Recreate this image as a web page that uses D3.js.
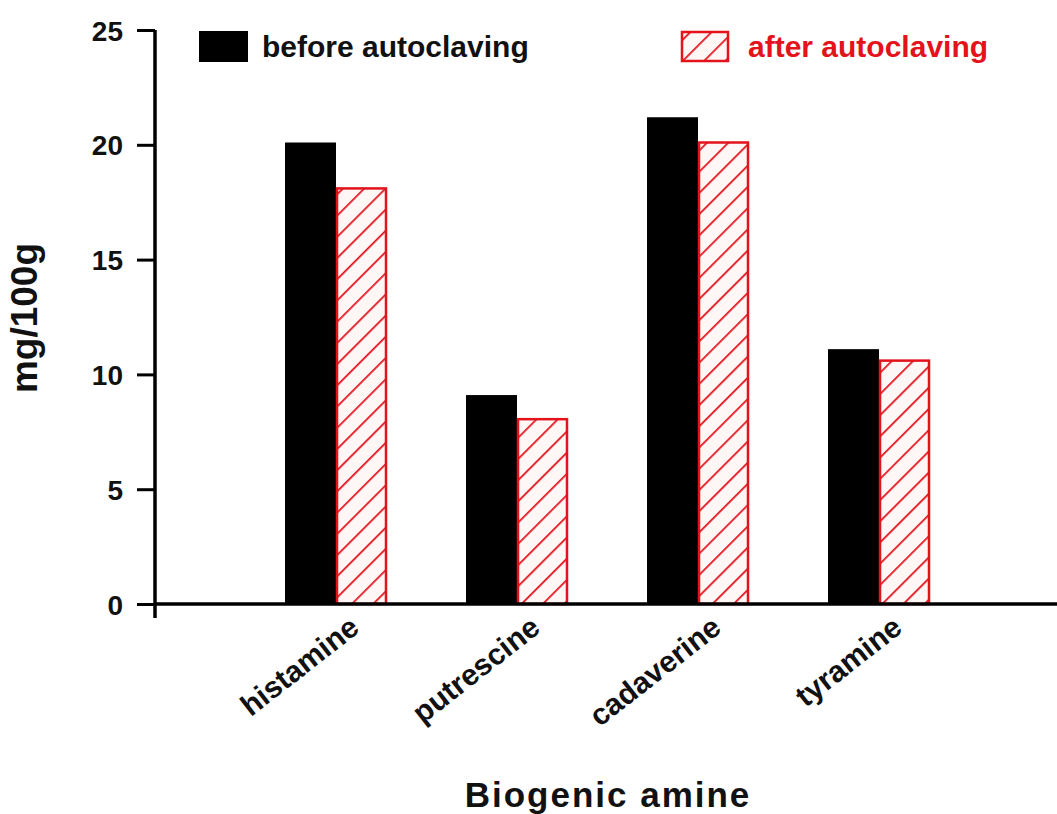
<!DOCTYPE html>
<html>
<head>
<meta charset="utf-8">
<script src="https://d3js.org/d3.v7.min.js"></script>
<style>
  body { margin: 0; background: #fff; }
  text { font-family: "Liberation Sans", Arial, sans-serif; font-weight: bold; }
</style>
</head>
<body>
<svg></svg>
<script>
// chart data
let categories = ['histamine', 'putrescine', 'cadaverine', 'tyramine'];
let beforeValues = [20.1, 9.1, 21.2, 11.1];
let afterValues = [18.1, 8.05, 20.1, 10.6];
let seriesNames = ['before autoclaving', 'after autoclaving'];
let yTicks = [0, 5, 10, 15, 20, 25];

let width = 1057;
let height = 814;
let red = '#e3121b';

let svg = d3.select('svg')
    .attr('width', width)
    .attr('height', height);

// hatch pattern for the "after" bars
let defs = svg.append('defs');
let pat = defs.append('pattern')
    .attr('id', 'hatch')
    .attr('patternUnits', 'userSpaceOnUse')
    .attr('width', 15)
    .attr('height', 15)
    .attr('patternTransform', 'rotate(45)');
pat.append('rect').attr('width', 15).attr('height', 15).attr('fill', '#fff6f6');
pat.append('line')
    .attr('x1', 0).attr('y1', 0).attr('x2', 0).attr('y2', 15)
    .attr('stroke', red).attr('stroke-width', 3.5);

let axisX = 155;
let yScale = d3.scaleLinear()
    .domain([0, 25])
    .range([604, 30]);

// centre of each category group
let xScale = d3.scalePoint()
    .domain(categories)
    .range([336, 879]);

// bars
let groups = svg.append('g');
let barW = 51;
categories.forEach(function(c, i) {
    let cx = xScale(c);
    groups.append('rect')
        .attr('x', cx - barW)
        .attr('y', yScale(beforeValues[i]))
        .attr('width', barW)
        .attr('height', yScale(0) - yScale(beforeValues[i]))
        .attr('fill', '#000');
    groups.append('rect')
        .attr('x', cx + 1)
        .attr('y', yScale(afterValues[i]))
        .attr('width', barW - 2)
        .attr('height', yScale(0) - yScale(afterValues[i]))
        .attr('fill', 'url(#hatch)')
        .attr('stroke', red)
        .attr('stroke-width', 2.5);
});

// y axis
let yAxis = d3.axisLeft(yScale)
    .tickValues(yTicks)
    .tickSize(18)
    .tickPadding(14);
let yG = svg.append('g')
    .attr('transform', `translate(${axisX}, 0)`)
    .call(yAxis);
yG.attr('font-size', null).attr('font-family', null);
yG.select('.domain').attr('d', `M0,${yScale(25)}V${yScale(0) + 14}`).attr('stroke-width', 3.5);
yG.selectAll('.tick line').attr('stroke-width', 3);
yG.selectAll('.tick text')
    .style('font-size', '28px')
    .attr('dy', '0.36em')
    .attr('fill', '#111');

// x axis line
svg.append('line')
    .attr('x1', axisX).attr('x2', width)
    .attr('y1', yScale(0)).attr('y2', yScale(0))
    .attr('stroke', '#000').attr('stroke-width', 3.5);

// category labels
svg.append('g').selectAll('text')
    .data(categories)
    .enter()
    .append('text')
    .attr('transform', function(d) {
        return `translate(${xScale(d) + 25}, ${yScale(0) + 27}) rotate(-38)`;
    })
    .attr('text-anchor', 'end')
    .style('font-size', '30px')
    .attr('fill', '#111')
    .text(function(d) { return d; });

// axis titles
svg.append('text')
    .attr('transform', `translate(37, 318) rotate(-90)`)
    .attr('text-anchor', 'middle')
    .style('font-size', '37px')
    .attr('fill', '#111')
    .text('mg/100g');

svg.append('text')
    .attr('x', 608)
    .attr('y', 807)
    .attr('text-anchor', 'middle')
    .style('font-size', '35px')
    .attr('letter-spacing', 2)
    .attr('fill', '#111')
    .text('Biogenic amine');

// legend
let legend = svg.append('g');
legend.append('rect')
    .attr('x', 199).attr('y', 31).attr('width', 49).attr('height', 31)
    .attr('fill', '#000');
legend.append('text')
    .attr('x', 262).attr('y', 57)
    .style('font-size', '30px')
    .attr('fill', '#111')
    .text(seriesNames[0]);
legend.append('rect')
    .attr('x', 682).attr('y', 32).attr('width', 46).attr('height', 29)
    .attr('fill', 'url(#hatch)')
    .attr('stroke', red).attr('stroke-width', 2.5);
legend.append('text')
    .attr('x', 748).attr('y', 57)
    .style('font-size', '30px')
    .attr('fill', red)
    .text(seriesNames[1]);
</script>
</body>
</html>
